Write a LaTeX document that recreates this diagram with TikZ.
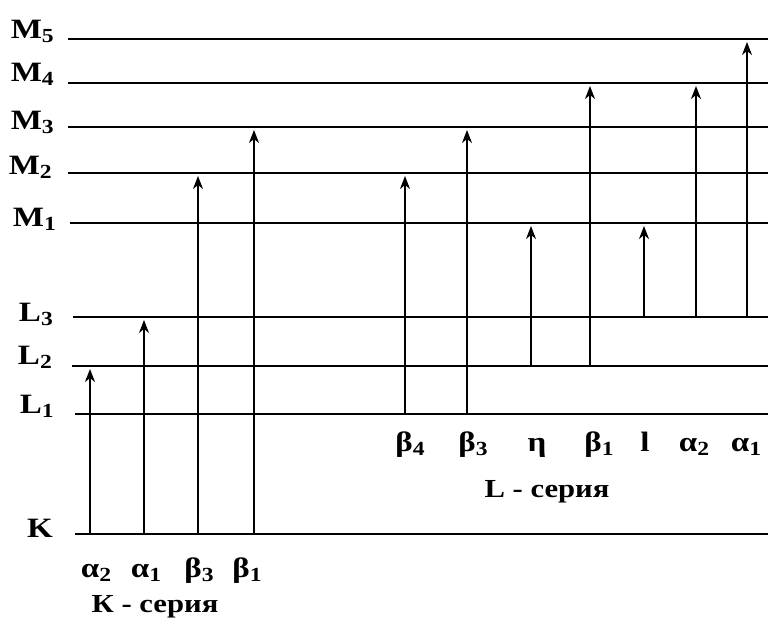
\documentclass[tikz,border=0pt]{standalone}
\usepackage{fontspec}
\setmainfont[FakeStretch=1.18]{Liberation Serif}
\usetikzlibrary{arrows.meta}
\newcommand{\lsub}[1]{\raisebox{-0.15em}{\fontsize{20}{20}\selectfont #1}}
\begin{document}
\begin{tikzpicture}[x=1pt,y=-1pt,
  levelline/.style={line width=1.6pt},
  trans/.style={line width=1.6pt,-{Stealth[length=13pt,width=10pt,inset=4pt]},shorten >=3pt},
  lvlabel/.style={anchor=base east,inner sep=0pt,font=\fontsize{28}{28}\selectfont\bfseries},
  serlabel/.style={anchor=base,inner sep=0pt,font=\fontsize{28}{28}\selectfont\bfseries},
  sertitle/.style={anchor=base,inner sep=0pt,font=\fontsize{26}{26}\selectfont\bfseries}]
\useasboundingbox (0,0) rectangle (771,621);
% level line ends
\coordinate (M5) at (68,39);  \coordinate (M5e) at (768,39);
\coordinate (M4) at (68,83);  \coordinate (M4e) at (768,83);
\coordinate (M3) at (68,127); \coordinate (M3e) at (768,127);
\coordinate (M2) at (68,173); \coordinate (M2e) at (768,173);
\coordinate (M1) at (70,223); \coordinate (M1e) at (768,223);
\coordinate (L3) at (73,317); \coordinate (L3e) at (768,317);
\coordinate (L2) at (72,366); \coordinate (L2e) at (768,366);
\coordinate (L1) at (75,414); \coordinate (L1e) at (768,414);
\coordinate (K)  at (75,534); \coordinate (Ke)  at (768,534);
\foreach \l in {M5,M4,M3,M2,M1,L3,L2,L1,K} \draw[levelline] (\l) -- (\l e);
% level labels
\node[lvlabel] (tM5) at (54,38)  {M\lsub{5}};
\node[lvlabel] (tM4) at (54,81)  {M\lsub{4}};
\node[lvlabel] (tM3) at (54,129) {M\lsub{3}};
\node[lvlabel] (tM2) at (52,174) {M\lsub{2}};
\node[lvlabel] (tM1) at (56,226) {M\lsub{1}};
\node[lvlabel] (tL3) at (53,321) {L\lsub{3}};
\node[lvlabel] (tL2) at (52,364) {L\lsub{2}};
\node[lvlabel] (tL1) at (54,413) {L\lsub{1}};
\node[lvlabel] (tK)  at (53,537) {K};
% transition columns
\coordinate (kA2) at (90,0);  \coordinate (kA1) at (144,0);
\coordinate (kB3) at (198,0); \coordinate (kB1) at (254,0);
\coordinate (lB4) at (405,0); \coordinate (lB3) at (467,0);
\coordinate (lEt) at (531,0); \coordinate (lB1) at (590,0);
\coordinate (lLl) at (644,0); \coordinate (lA2) at (696,0);
\coordinate (lA1) at (747,0);
% K series
\draw[trans] (kA2 |- K) -- (kA2 |- L2);
\draw[trans] (kA1 |- K) -- (kA1 |- L3);
\draw[trans] (kB3 |- K) -- (kB3 |- M2);
\draw[trans] (kB1 |- K) -- (kB1 |- M3);
% L series
\draw[trans] (lB4 |- L1) -- (lB4 |- M2);
\draw[trans] (lB3 |- L1) -- (lB3 |- M3);
\draw[trans] (lEt |- L2) -- (lEt |- M1);
\draw[trans] (lB1 |- L2) -- (lB1 |- M4);
\draw[trans] (lLl |- L3) -- (lLl |- M1);
\draw[trans] (lA2 |- L3) -- (lA2 |- M4);
\draw[trans] (lA1 |- L3) -- (lA1 |- M5);
% K series labels
\node[serlabel] (skA2) at (96,577)  {α\lsub{2}};
\node[serlabel] (skA1) at (146,577) {α\lsub{1}};
\node[serlabel] (skB3) at (199,577) {β\lsub{3}};
\node[serlabel] (skB1) at (247,577) {β\lsub{1}};
\node[sertitle] (kser) at (155,612) {К - серия};
% L series labels
\node[serlabel] (slB4) at (410,451) {β\lsub{4}};
\node[serlabel] (slB3) at (473,451) {β\lsub{3}};
\node[serlabel] (slEt) at (537,451) {η};
\node[serlabel] (slB1) at (599,451) {β\lsub{1}};
\node[serlabel] (slLl) at (645,451) {l};
\node[serlabel] (slA2) at (694,451) {α\lsub{2}};
\node[serlabel] (slA1) at (746,451) {α\lsub{1}};
\node[sertitle] (lser) at (547,497) {L - серия};
\end{tikzpicture}
\end{document}
